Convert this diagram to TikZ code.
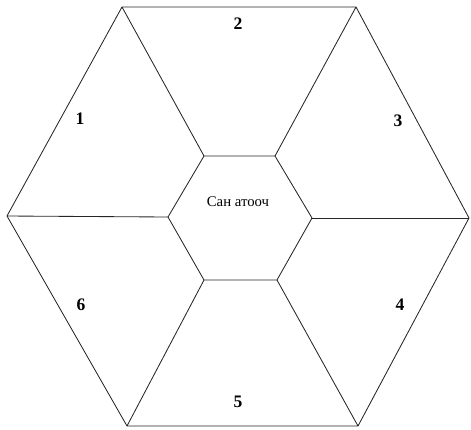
\documentclass[tikz,border=0pt]{standalone}
\usepackage{fontspec}
\setmainfont{Liberation Serif}
\usetikzlibrary{positioning}

\begin{document}
\begin{tikzpicture}[
  x=0.025cm, y=-0.025cm,
  edge/.style = {draw=black!85, line width=0.6pt, line join=miter},
  num/.style  = {font=\fontsize{12.5}{14}\selectfont\bfseries, inner sep=0pt},
  centre/.style = {font=\fontsize{10.5}{13}\selectfont, inner sep=0pt}
]
\useasboundingbox (0,0) rectangle (471,429);

% outer hexagon
\coordinate (o1) at (122,7);
\coordinate (o2) at (356,7);
\coordinate (o3) at (469,218);
\coordinate (o4) at (358,426);
\coordinate (o5) at (127,426);
\coordinate (o6) at (7,216);

% inner hexagon
\coordinate (i1) at (204,156);
\coordinate (i2) at (275,156);
\coordinate (i3) at (312,218);
\coordinate (i4) at (277,280);
\coordinate (i5) at (204,280);
\coordinate (i6) at (168,217);

\draw[edge] (o1) -- (o2) -- (o3) -- (o4) -- (o5) -- (o6) -- cycle;
\draw[edge] (i1) -- (i2) -- (i3) -- (i4) -- (i5) -- (i6) -- cycle;

% spokes
\draw[edge] (i1) -- (o1);
\draw[edge] (i2) -- (o2);
\draw[edge] (i3) -- (o3);
\draw[edge] (i4) -- (o4);
\draw[edge] (i5) -- (o5);
\draw[edge] (i6) -- (o6);

\node[centre] (core) at (238,202) {Сан атооч};

\node[num] (n1) at (80,119) {1};
\node[num] (n2) at (238,24) {2};
\node[num] (n3) at (398,121) {3};
\node[num] (n4) at (400,305) {4};
\node[num] (n5) at (238,402) {5};
\node[num] (n6) at (81,305) {6};

\end{tikzpicture}
\end{document}
